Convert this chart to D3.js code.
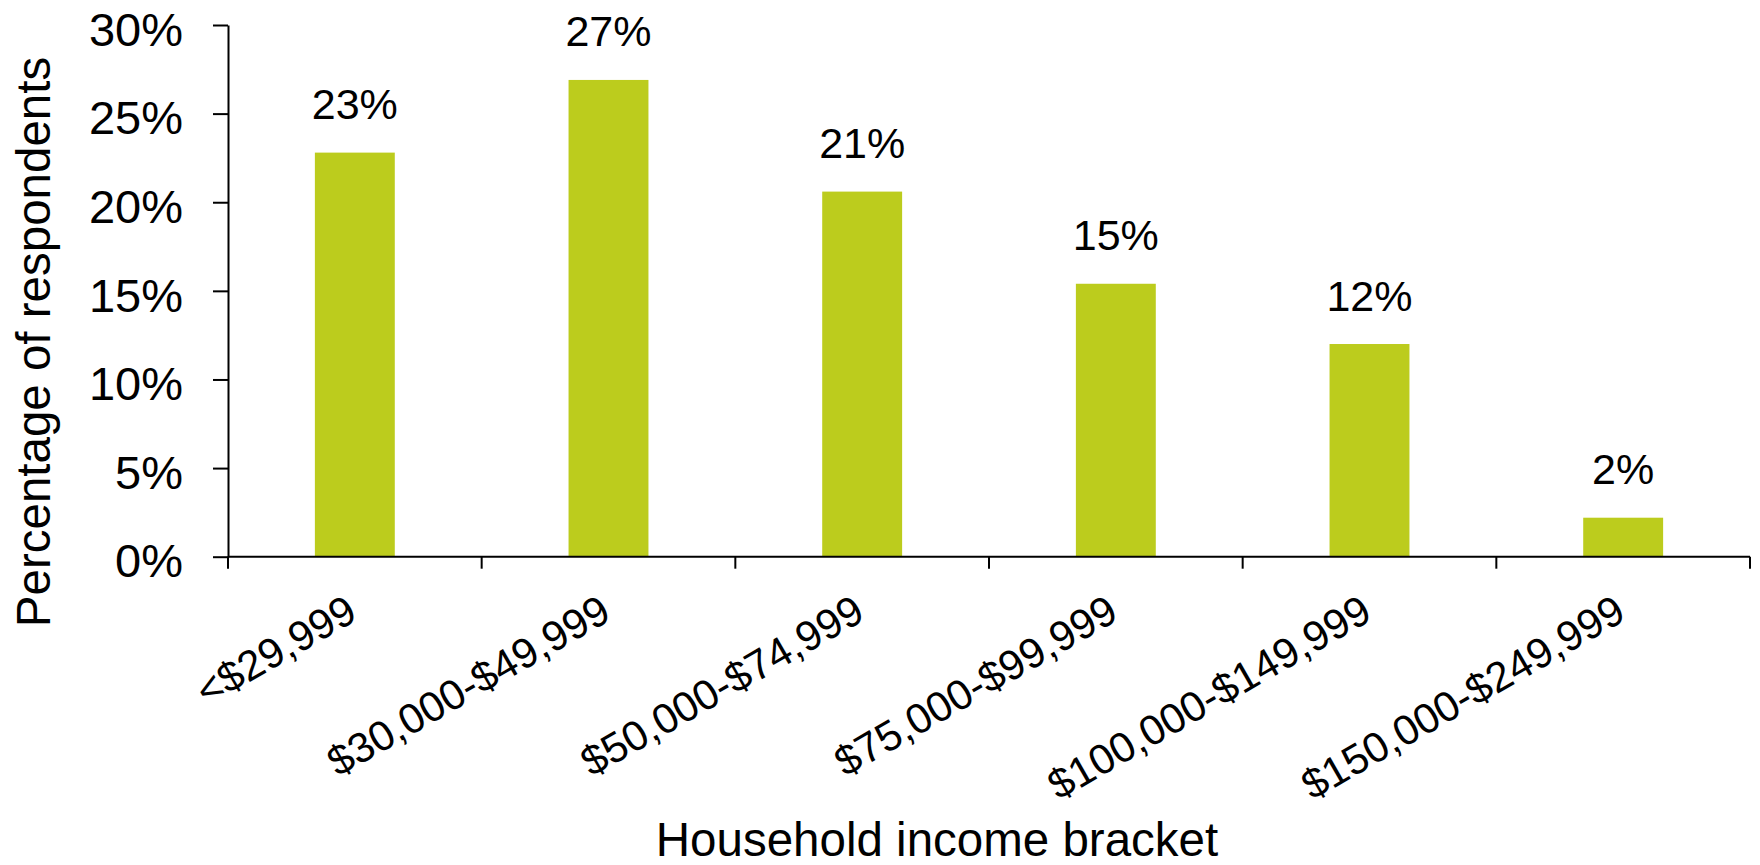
<!DOCTYPE html>
<html>
<head>
<meta charset="utf-8">
<script src="https://cdn.jsdelivr.net/npm/d3@7"></script>
<style>
  html, body { margin: 0; padding: 0; background: #fff; }
  svg { display: block; font-family: "Liberation Sans", Arial, sans-serif; }
</style>
</head>
<body>
<svg id="chart" width="1760" height="865"></svg>
<script>
// Share of respondents by household income bracket (percent)
const categories = [
  "<$29,999",
  "$30,000-$49,999",
  "$50,000-$74,999",
  "$75,000-$99,999",
  "$100,000-$149,999",
  "$150,000-$249,999"
];
const shares = [22.8, 26.9, 20.6, 15.4, 12.0, 2.2];
const yTicks = [0, 5, 10, 15, 20, 25, 30];

const xTitle = "Household income bracket";
const yTitle = "Percentage of respondents";

const barColor = "#bccc1d";

const svg = d3.select("#chart");

const plot = { left: 228, right: 1750, top: 25, bottom: 556.7 };

const x = d3.scaleBand()
  .domain(categories)
  .range([plot.left, plot.right])
  .paddingInner(0.685)
  .paddingOuter(0.3425);

const y = d3.scaleLinear()
  .domain([0, 30])
  .range([plot.bottom, plot.top]);

const pct = d => d3.format(".0f")(d) + "%";

// Bars
svg.append("g")
  .selectAll("rect")
  .data(shares)
  .join("rect")
  .attr("x", (d, i) => x(categories[i]))
  .attr("y", d => y(d))
  .attr("width", x.bandwidth())
  .attr("height", d => y(0) - y(d))
  .attr("fill", barColor);

// Value labels above bars
svg.append("g")
  .selectAll("text")
  .data(shares)
  .join("text")
  .attr("x", (d, i) => x(categories[i]) + x.bandwidth() / 2)
  .attr("y", d => y(d) - 33.5)
  .attr("text-anchor", "middle")
  .attr("font-size", 43)
  .attr("fill", "#000")
  .text(d => pct(d));

// Y axis
const yAxis = svg.append("g")
  .attr("transform", `translate(${plot.left},0)`)
  .call(d3.axisLeft(y)
    .tickValues(yTicks)
    .tickFormat(pct)
    .tickSize(15)
    .tickSizeOuter(0)
    .tickPadding(30));
yAxis.selectAll("path, line").attr("stroke", "#000").attr("stroke-width", 2);
yAxis.selectAll("text")
  .attr("font-size", 47)
  .attr("font-family", "Liberation Sans, Arial, sans-serif")
  .attr("fill", "#000")
  .attr("dy", "0.43em");

// X axis: baseline, boundary ticks and rotated category labels
const step = x.step();
const boundaries = categories.map(c => x(c) + x.bandwidth() / 2 - step / 2)
  .concat([x(categories[categories.length - 1]) + x.bandwidth() / 2 + step / 2]);

const xAxis = svg.append("g");
xAxis.append("line")
  .attr("x1", plot.left).attr("x2", plot.right)
  .attr("y1", y(0)).attr("y2", y(0))
  .attr("stroke", "#000").attr("stroke-width", 2);
xAxis.selectAll("line.tick")
  .data(boundaries)
  .join("line")
  .attr("class", "tick")
  .attr("x1", d => d).attr("x2", d => d)
  .attr("y1", y(0)).attr("y2", y(0) + 12)
  .attr("stroke", "#000").attr("stroke-width", 2);
xAxis.selectAll("text")
  .data(categories)
  .join("text")
  .attr("transform", d => `translate(${x(d) + x.bandwidth() / 2 + 4.5},${y(0) + 62}) rotate(-30)`)
  .attr("text-anchor", "end")
  .attr("font-size", 42)
  .attr("fill", "#000")
  .text(d => d);

// Axis titles
svg.append("text")
  .attr("x", 937)
  .attr("y", 856)
  .attr("text-anchor", "middle")
  .attr("font-size", 47.5)
  .attr("fill", "#000")
  .text(xTitle);

svg.append("text")
  .attr("transform", "translate(49.5,342) rotate(-90)")
  .attr("text-anchor", "middle")
  .attr("font-size", 47.5)
  .attr("fill", "#000")
  .text(yTitle);
</script>
</body>
</html>
